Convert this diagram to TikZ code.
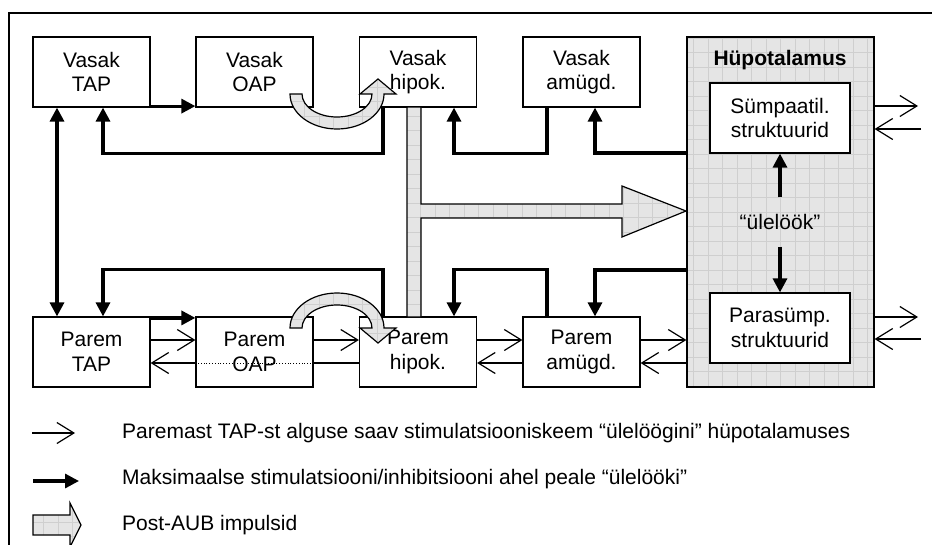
\documentclass[tikz,border=0pt]{standalone}
\usepackage{fontspec}
\setmainfont{Liberation Sans}
\usetikzlibrary{arrows.meta,calc}

\begin{document}
\begin{tikzpicture}[x=1pt, y=-1pt,
    >={Triangle[length=14pt,width=14pt]},
    every node/.style={font=\fontsize{21}{24.5}\selectfont},
    box/.style={draw, line width=1.2pt, fill=white, minimum width=117pt,
      minimum height=70pt, inner sep=0pt, align=center},
    ahel/.style={line width=3.2pt, ->},
    skeem/.style={line width=1.2pt,
      -{Straight Barb[length=17pt,width=21pt,line width=1.2pt]}},
    ruudustik/.style={fill=gray!20, path picture={
      \draw[gray!38, line width=0.5pt, step=14.5pt]
        (path picture bounding box.south west) grid
        (path picture bounding box.north east);}},
    impulss/.style={ruudustik, draw, line width=1.2pt}]
    \clip (0,0) rectangle (932,544);

    % frame
    \draw[line width=1.2pt] (9,600) -- (9,13) -- (1000,13);

    % hypothalamus
    \node[draw, line width=1.2pt, ruudustik, minimum width=187pt,
      minimum height=350pt, inner sep=0pt] (hyp) at (780.5,212) {};
    \node[font=\fontsize{21}{24.5}\selectfont\bfseries] (hyplabel)
      at (780,60) {Hüpotalamus};
    \node[box, minimum width=140pt] (symp) at (780,118) {Sümpaatil.\\struktuurid};
    \node[box, minimum width=140pt] (para) at (780,328) {Parasümp.\\struktuurid};
    \node[minimum height=49pt, inner sep=0pt] (ule) at (780,222) {“ülelöök”};

    % left side
    \node[box] (vt) at (91.5,72) {Vasak\\TAP};
    \node[box] (vo) at (254.5,72) {Vasak\\OAP};
    \node[box] (vh) at (418,72) {Vasak\\hipok.};
    \node[box] (va) at (581.5,72) {Vasak\\amügd.};

    % right side
    \node[box] (pt) at (91.5,352) {Parem\\TAP};
    \node[box] (po) at (254.5,352) {Parem\\OAP};
    \node[box] (ph) at (418,352) {Parem\\hipok.};
    \node[box] (pa) at (581.5,352) {Parem\\amügd.};

    % post-AUB impulses
    \draw[impulss] (407,107) -- (421,107) -- (421,204) -- (622,204) -- (622,186)
      -- (686,211) -- (622,237) -- (622,218) -- (421,218) -- (421,317)
      -- (407,317) -- cycle;
    \draw[impulss] (290,94) arc[start angle=180, end angle=0, x radius=47, y radius=35]
      -- (396,94) -- (378,79) -- (360,94) -- (372,94)
      arc[start angle=0, end angle=180, x radius=35, y radius=23] -- cycle;
    \draw[impulss] (290,328) arc[start angle=180, end angle=360, x radius=47, y radius=35]
      -- (396,328) -- (378,343) -- (360,328) -- (372,328)
      arc[start angle=360, end angle=180, x radius=35, y radius=23] -- cycle;

    % thick chain, top
    \draw[ahel] ([yshift=1.5pt]vt.south east) -- ([yshift=1.5pt]vo.south west);
    \draw[ahel, <->] ([xshift=-34.5pt]vt.south) -- ([xshift=-34.5pt]pt.north);
    \draw[ahel] ([xshift=-35pt]vh.south) -- ++(0,46) -| ([xshift=11.5pt]vt.south);
    \draw[ahel] ([xshift=-34.5pt]va.south) -- ++(0,46) -| ([xshift=36pt]vh.south);
    \draw[ahel] (hyp.west |- 0,153) -| ([xshift=13.5pt]va.south);
    \draw[ahel] (ule.north) -- (symp.south);

    % thick chain, bottom
    \draw[ahel] ([yshift=-1.5pt]pt.north east) -- ([yshift=-1.5pt]po.north west);
    \draw[ahel] ([xshift=-35pt]ph.north) -- ++(0,-47) -| ([xshift=11.5pt]pt.north);
    \draw[ahel] ([xshift=-34.5pt]pa.north) -- ++(0,-47) -| ([xshift=36pt]ph.north);
    \draw[ahel] (hyp.west |- 0,270) -| ([xshift=13.5pt]pa.north);
    \draw[ahel] (ule.south) -- (para.north);

    % thin scheme
    \draw[skeem] ([yshift=12pt]pt.east) -- ([yshift=12pt]po.west);
    \draw[skeem] ([yshift=12pt]po.east) -- ([yshift=12pt]ph.west);
    \draw[skeem] ([yshift=12pt]ph.east) -- ([yshift=12pt]pa.west);
    \draw[skeem] ([yshift=12pt]pa.east) -- ($(pa.east -| hyp.west)+(0,-12)$);
    \draw[skeem] ($(pa.east -| hyp.west)+(0,11)$) -- ([yshift=-11pt]pa.east);
    \draw[skeem] ([yshift=-11pt]pa.west) -- ([yshift=-11pt]ph.east);
    \draw[line width=1.2pt] ([yshift=-11pt]ph.west) -- ([yshift=-11pt]po.east);
    \draw[line width=0.8pt, dotted] ([yshift=-11pt]po.east) -- ([yshift=-11pt]po.west);
    \draw[skeem] ([yshift=-11pt]po.west) -- ([yshift=-11pt]pt.east);

    % out of the hypothalamus
    \coordinate (sout) at (918,106);
    \coordinate (sin) at (921,129);
    \coordinate (pout) at (918,317);
    \coordinate (pin) at (921,339);
    \draw[skeem] (hyp.east |- sout) -- (sout);
    \draw[skeem] (sin) -- (hyp.east |- sin);
    \draw[skeem] (hyp.east |- pout) -- (pout);
    \draw[skeem] (pin) -- (hyp.east |- pin);

    % legend
    \coordinate (k1a) at (32,433);
    \coordinate (k1b) at (75,433);
    \draw[skeem] (k1a) -- (k1b);
    \node[anchor=west, inner sep=0pt] (t1) at (122,433)
      {Paremast TAP-st alguse saav stimulatsiooniskeem “ülelöögini” hüpotalamuses};
    \coordinate (k2a) at (33,481);
    \coordinate (k2b) at (79,481);
    \draw[ahel] (k2a) -- (k2b);
    \node[anchor=west, inner sep=0pt] (t2) at (122,479)
      {Maksimaalse stimulatsiooni/inhibitsiooni ahel peale “ülelööki”};
    \draw[impulss] (33,515) -- (70,515) -- (70,503) -- (81,525) -- (70,547)
      -- (70,535) -- (33,535) -- cycle;
    \node[anchor=west, inner sep=0pt] (t3) at (122,525) {Post-AUB impulsid};
\end{tikzpicture}
\end{document}
